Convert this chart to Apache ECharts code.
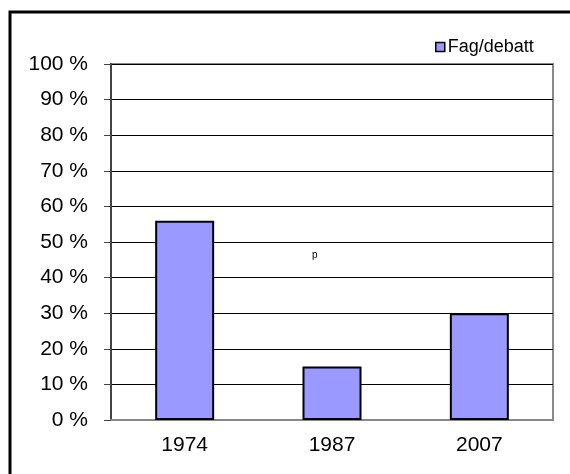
<!DOCTYPE html>
<html>
<head>
<meta charset="utf-8">
<script src="https://cdn.jsdelivr.net/npm/echarts@6/dist/echarts.min.js"></script>
<style>
  html, body { margin: 0; padding: 0; background: #fff; }
  #chart { width: 570px; height: 474px; }
</style>
</head>
<body>
<div id="chart"></div>
<script>
// data
var years = ['1974', '1987', '2007'];
var fagDebatt = [56, 15, 30];
var seriesName = 'Fag/debatt';
var note = 'p';

var chart = echarts.init(document.getElementById('chart'));
var font = '"Liberation Sans", Arial, sans-serif';

var option = {
  animation: false,
  backgroundColor: '#fff',
  textStyle: {fontFamily: font},
  graphic: [
    {
      type: 'rect',
      shape: {x: 10, y: 12, width: 620, height: 520},
      style: {fill: 'none', stroke: '#000', lineWidth: 3}
    },
    {
      type: 'text',
      left: 312,
      top: 250,
      style: {text: note, fontSize: 10, fontFamily: font, fill: '#000'}
    }
  ],
  legend: {
    left: 430,
    top: 33,
    itemWidth: 9,
    itemHeight: 9,
    itemGap: 4,
    icon: 'rect',
    textStyle: {fontSize: 18, color: '#000', fontFamily: font, padding: [0, 0, 0, -2]},
    itemStyle: {borderColor: '#000', borderWidth: 1.5},
    data: [seriesName]
  },
  grid: {
    left: 111,
    right: 17,
    top: 64,
    bottom: 54,
    show: true,
    borderColor: '#888',
    borderWidth: 2
  },
  xAxis: {
    type: 'category',
    data: years,
    axisTick: {show: false},
    axisLine: {lineStyle: {color: '#888', width: 2}},
    axisLabel: {fontSize: 21, color: '#000', margin: 15, fontFamily: font}
  },
  yAxis: {
    type: 'value',
    min: 0,
    max: 100,
    interval: 10,
    axisLine: {show: true, lineStyle: {color: '#444', width: 2}},
    axisTick: {show: true, length: 7, lineStyle: {color: '#444', width: 1}},
    axisLabel: {fontSize: 21, color: '#000', margin: 23, formatter: '{value} %', fontFamily: font},
    splitLine: {lineStyle: {color: '#000', width: 1}}
  },
  series: [{
    name: seriesName,
    type: 'bar',
    data: fagDebatt,
    barWidth: 59,
    itemStyle: {color: '#9999ff', borderColor: '#000', borderWidth: 2}
  }]
};

chart.setOption(option);
</script>
</body>
</html>
